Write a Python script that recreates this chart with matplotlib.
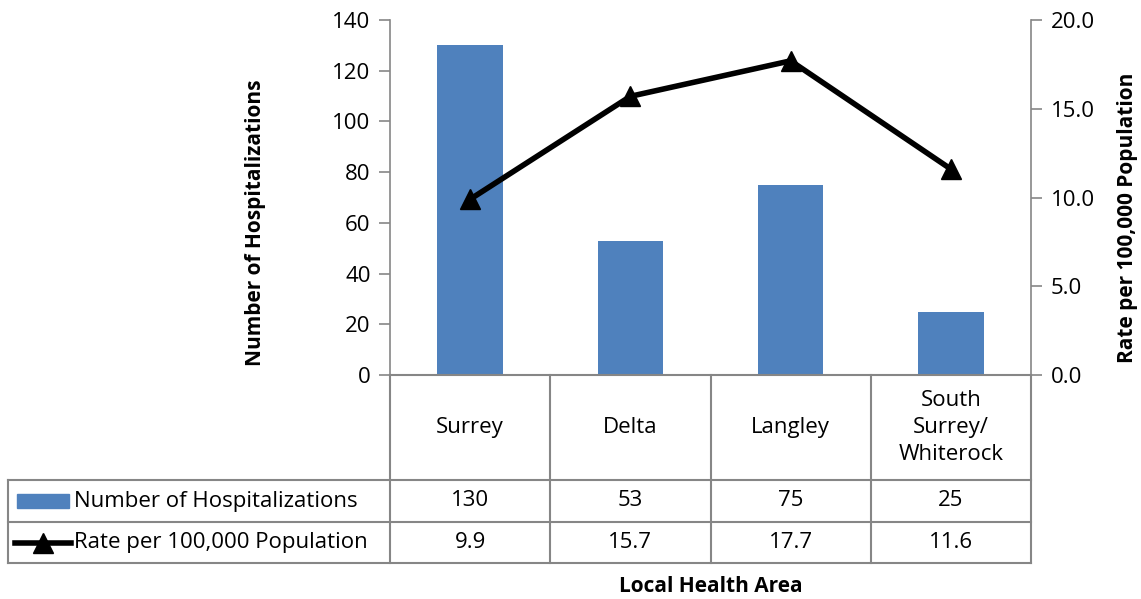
import matplotlib.pyplot as plt
import matplotlib.transforms as mtransforms
from matplotlib.lines import Line2D
from matplotlib.patches import Rectangle

areas = ["Surrey", "Delta", "Langley", "South\nSurrey/\nWhiterock"]
hospitalizations = [130, 53, 75, 25]
rates = [9.9, 15.7, 17.7, 11.6]
bar_name = "Number of Hospitalizations"
line_name = "Rate per 100,000 Population"

plt.rcParams["font.family"] = ["Open Sans", "DejaVu Sans"]
grey = "#868686"
blue = "#4f81bd"
fs = 16
lfs = 15

fig = plt.figure(figsize=(11.41, 5.99), dpi=100)
ax = fig.add_axes([390 / 1141, 1 - 375 / 599, 641 / 1141, 355 / 599])
ax2 = ax.twinx()

x = list(range(len(areas)))
ax.bar(x, hospitalizations, width=0.41, color=blue, zorder=2)
ax2.plot(x, rates, color="black", lw=4, marker="^", markersize=15, zorder=3)

ax.set_xlim(-0.5, len(areas) - 0.5)
ax.set_ylim(0, 140)
ax.set_yticks(range(0, 141, 20))
ax2.set_ylim(0, 20)
ax2.set_yticks([0, 5, 10, 15, 20])
ax2.set_yticklabels([f"{v:.1f}" for v in [0, 5, 10, 15, 20]])
ax.set_xticks([])

for a in (ax, ax2):
    for s in ("top", "bottom"):
        a.spines[s].set_visible(False)
    a.tick_params(axis="y", labelsize=fs, length=8, width=1.2, color=grey, pad=6)
ax.spines["left"].set_color(grey)
ax.spines["right"].set_visible(False)
ax2.spines["left"].set_visible(False)
ax2.spines["right"].set_color(grey)
ax2.spines["right"].set_linewidth(1.2)
ax.spines["left"].set_linewidth(1.2)

ax.set_ylabel("Number of Hospitalizations", fontsize=lfs, fontweight="bold")
ax.yaxis.set_label_coords((266 - 390) / 641, (375 - 223) / 355)
ax2.set_ylabel("Rate per 100,000 Population", fontsize=lfs, fontweight="bold")
ax2.yaxis.set_label_coords((1117 - 390) / 641, (375 - 218) / 355)

# data table below the plot
tr = mtransforms.blended_transform_factory(ax.transData, ax.transAxes)
h = 355.0
y_cat = -105 / h
y_r1 = -147 / h
y_r2 = -188 / h
x_left = (8 - 390) / 641 * len(areas) - 0.5
x_right = len(areas) - 0.5
lk = dict(color=grey, lw=1.5, transform=tr, clip_on=False)
ax.add_line(Line2D([-0.5, x_right], [0, 0], **lk))
for yy in (y_cat, y_r1, y_r2):
    ax.add_line(Line2D([x_left, x_right], [yy, yy], **lk))
for i in range(len(areas) + 1):
    ax.add_line(Line2D([i - 0.5, i - 0.5], [0, y_r2], **lk))
ax.add_line(Line2D([x_left, x_left], [y_cat, y_r2], **lk))

for i, name in enumerate(areas):
    ax.text(i, y_cat / 2, name, transform=tr, ha="center", va="center",
            fontsize=fs, linespacing=1.4)
    ax.text(i, (y_cat + y_r1) / 2, str(hospitalizations[i]), transform=tr,
            ha="center", va="center", fontsize=fs)
    ax.text(i, (y_r1 + y_r2) / 2, f"{rates[i]:.1f}", transform=tr,
            ha="center", va="center", fontsize=fs)

# legend keys inside the table
unit = 1 / 160.25
ax.add_patch(Rectangle((x_left + 9 * unit, (y_cat + y_r1) / 2 - 7 / h), 52 * unit, 14 / h,
                       transform=tr, color=blue, clip_on=False))
ax.add_line(Line2D([x_left + 7 * unit, x_left + 63 * unit], [(y_r1 + y_r2) / 2] * 2,
                   color="black", lw=4, transform=tr, clip_on=False))
ax.add_line(Line2D([x_left + 35 * unit], [(y_r1 + y_r2) / 2], marker="^",
                   markersize=14, color="black", transform=tr, clip_on=False))
ax.text(x_left + 66 * unit, (y_cat + y_r1) / 2, bar_name, transform=tr,
        ha="left", va="center", fontsize=fs)
ax.text(x_left + 66 * unit, (y_r1 + y_r2) / 2, line_name, transform=tr,
        ha="left", va="center", fontsize=fs)

fig.text(711 / 1141, 1 - 586 / 599, "Local Health Area", ha="center", va="center",
         fontsize=lfs, fontweight="bold")

fig.savefig("out.png", dpi=100)
